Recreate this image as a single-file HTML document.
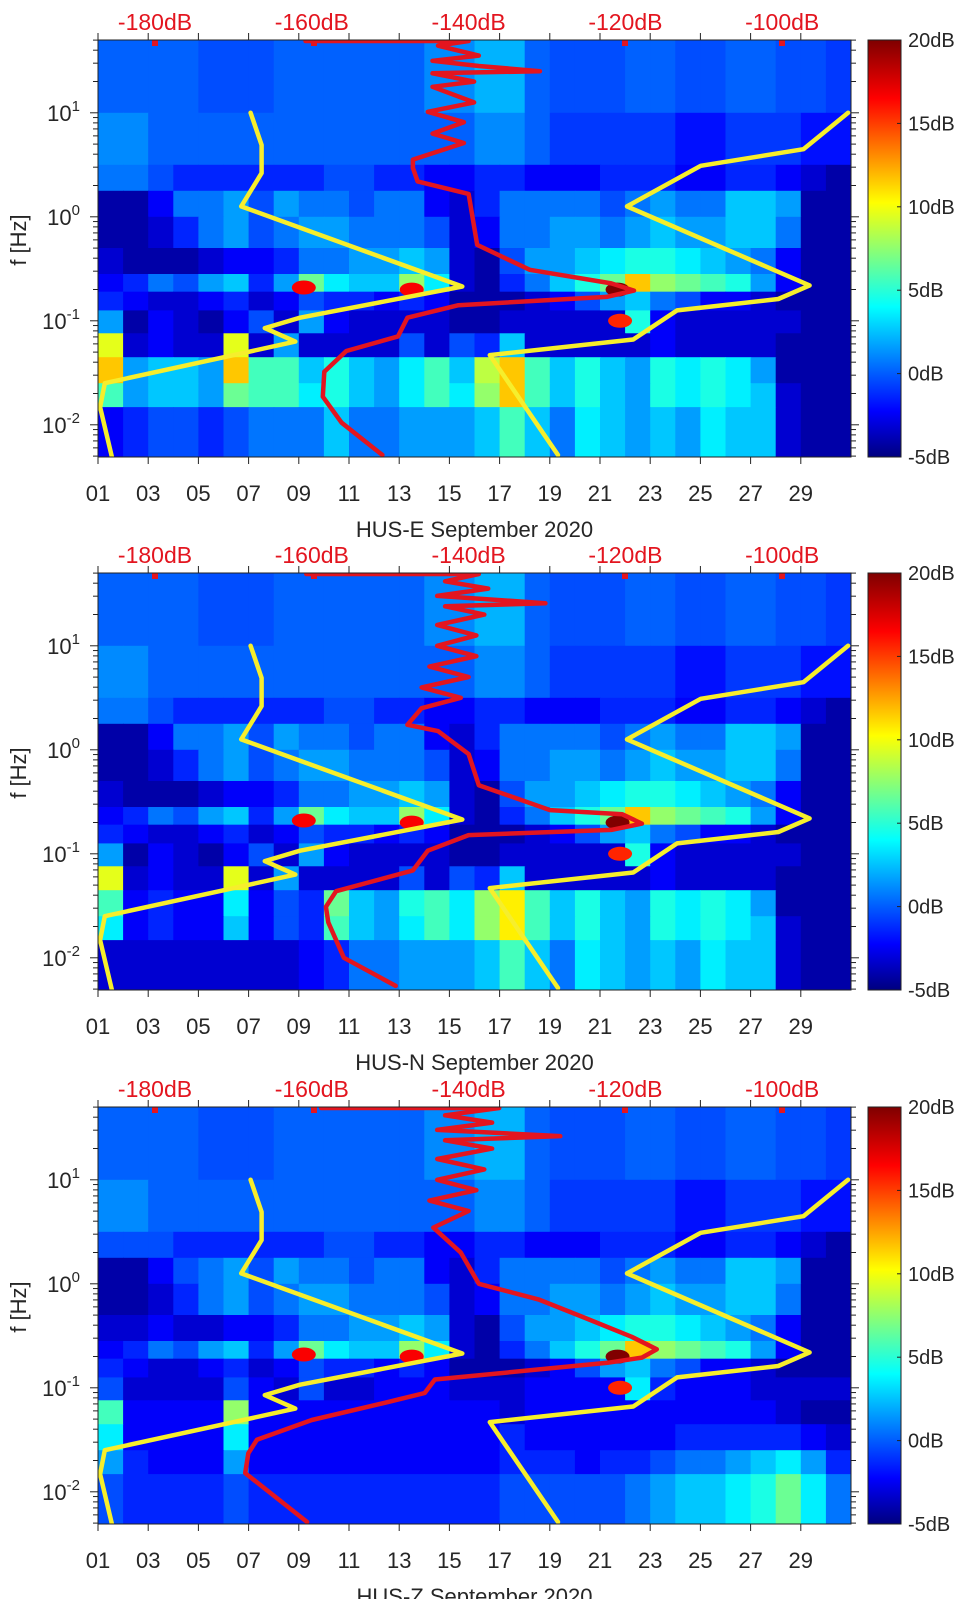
<!DOCTYPE html>
<html><head><meta charset="utf-8"><style>
html,body{margin:0;padding:0;background:#fff;}
svg{display:block;font-family:"Liberation Sans",sans-serif;}
</style></head><body>
<svg id="fig" width="962" height="1599" viewBox="0 0 962 1599" xmlns="http://www.w3.org/2000/svg">
<defs>
<linearGradient id="jet" x1="0" y1="1" x2="0" y2="0">
<stop offset="0" stop-color="#00007f"/><stop offset="0.11" stop-color="#0000ff"/><stop offset="0.36" stop-color="#00ffff"/><stop offset="0.61" stop-color="#ffff00"/><stop offset="0.86" stop-color="#ff0000"/><stop offset="1" stop-color="#7f0000"/>
</linearGradient>
</defs>
</svg>
<script>
// ---- data ----
const rowEdges = [1.7, 1.0, 0.5, 0.25, 0.0, -0.3, -0.55, -0.72, -0.9, -1.12, -1.35, -1.6, -1.83, -2.31];
const dayTicks = ["01","03","05","07","09","11","13","15","17","19","21","23","25","27","29"];
const dbTicks = [-180, -160, -140, -120, -100];
const cbTicks = [20, 15, 10, 5, 0, -5];
const panelNames = ["HUS-E September 2020", "HUS-N September 2020", "HUS-Z September 2020"];

const heatE = [
 [0.5,0.5,0.5,0.5,0,0,0,0.5,0.5,0.5,0.5,0.5,0.5,1.5,1.5,2.5,2.5,0.5,0,0,0,0.5,0.5,0,0,0.5,0.5,0,0,-0.5],
 [1.5,1.5,0.5,0.5,0.5,0.5,0.5,0.5,0.5,0.5,0.5,0.5,0.5,0.5,0.5,1.5,1.5,0.5,-0.5,-0.5,-0.5,-0.5,-0.5,-1.5,-1.5,-0.5,-0.5,-0.5,-1.5,-1.5],
 [1,1,0,-1,-1,-1,-1,-1,-1,0,0,-1,-1,-2,-2,-1,-1,-2,-2,-2,-1,-1,-1,-2,-2,-1,-1,-2,-3,-4],
 [-4,-4,-2,1,1,2,0,2,1,1,0,1,1,-2,-3,-1,1,1,1,1,0,1,2,1,1,3,3,2,-4,-4],
 [-4,-4,-3,-1,1,2,0,1,2,2,1,1,1,0,-3,-2,1,1,2,2,1,2,3,2,2,3,3,1,-4,-4],
 [-3,-4,-4,-4,-3,-2,-2,-1,1,1,2,2,3,2,-3,-4,0,2,2,3,4,5,5,4,3,2,1,-2,-4,-4],
 [-2,-1,1,0,2,3,-1,2,7,4,3,3,8,4,-3,-4,-1,1,3,5,7,12,8,7,6,5,2,-2,-4,-4],
 [-1,-2,-3,-3,-2,-1,-3,-2,0,-1,-1,-2,-1,-2,-4,-4,-4,-3,-2,0,2,3,1,0,-2,-2,-3,-4,-4,-4],
 [2,-4,-2,-3,-4,-2,0,-3,2,-2,-3,-3,-3,-3,-4,-4,-3,-3,-3,-3,-3,5,-2,-3,-3,-3,-3,-3,-4,-4],
 [10,-3,-2,-3,-3,10,-3,2,-3,-3,-3,-3,0,-3,0,-1,3,-3,-3,-3,-3,-3,-2,-3,-3,-3,-3,-4,-4,-4],
 [12,2,3,3,2,12,6,6,3,5,3,2,4,6,3,9,12,6,3,5,3,2,5,4,5,4,2,-4,-4,-4],
 [6,2,3,3,2,7,6,6,4,5,3,2,4,6,4,8,12,6,3,5,3,2,5,4,5,4,3,-3,-4,-4],
 [-2,-1,0,0,-1,0,1,1,1,3,1,1,2,2,2,3,6,3,1,4,3,2,3,2,4,3,3,-3,-4,-4]
];
const heatN = [
 [0.5,0.5,0.5,0.5,0,0,0,0.5,0.5,0.5,0.5,0.5,0.5,1.5,1.5,2.5,2.5,0.5,0,0,0,0.5,0.5,0,0,0.5,0.5,0,0,-0.5],
 [1.5,1.5,0.5,0.5,0.5,0.5,0.5,0.5,0.5,0.5,0.5,0.5,0.5,0.5,0.5,1.5,1.5,0.5,-0.5,-0.5,-0.5,-0.5,-0.5,-1.5,-1.5,-0.5,-0.5,-0.5,-1.5,-1.5],
 [1,1,0,-1,-1,-1,-1,-1,-1,0,0,-1,-1,-2,-2,-1,-1,-2,-2,-2,-1,-1,-1,-2,-2,-1,-1,-2,-3,-4],
 [-4,-4,-2,1,1,2,0,2,1,1,0,1,1,-2,-3,-1,1,1,1,1,0,1,2,1,1,3,3,2,-4,-4],
 [-4,-4,-3,-1,1,2,0,1,2,2,1,1,1,0,-3,-2,1,1,2,2,1,2,3,2,2,3,3,1,-4,-4],
 [-3,-4,-4,-4,-3,-2,-2,-1,1,1,2,2,3,2,-3,-4,0,2,2,3,4,5,5,4,3,2,1,-2,-4,-4],
 [-2,-1,1,0,2,3,-1,2,7,4,3,3,8,4,-3,-4,-1,1,3,5,7,12,8,7,6,5,2,-2,-4,-4],
 [-1,-2,-3,-3,-2,-1,-3,-2,0,-1,-1,-2,-1,-2,-4,-4,-4,-3,-2,0,2,3,1,0,-2,-2,-3,-4,-4,-4],
 [2,-4,-2,-3,-4,-2,0,-3,2,-2,-3,-3,-3,-3,-4,-4,-3,-3,-3,-3,-3,5,-2,-3,-3,-3,-3,-3,-4,-4],
 [10,-3,-2,-3,-3,10,-3,2,-3,-3,-3,-3,0,-3,0,-1,3,-3,-3,-3,-3,-3,-2,-3,-3,-3,-3,-4,-4,-4],
 [6,-2,-1,-2,-2,4,-2,0,-1,7,3,2,5,6,4,8,11,6,3,5,3,2,5,4,5,4,2,-4,-4,-4],
 [4,-2,-1,-2,-2,3,-2,0,-1,6,3,2,4,6,4,8,11,6,3,5,3,2,5,4,5,4,3,-3,-4,-4],
 [-3,-3,-3,-3,-3,-3,-3,-3,-2,-1,1,1,2,2,2,3,6,3,1,4,3,2,3,2,4,3,3,-3,-4,-4]
];
const heatZ = [
 [0.5,0.5,0.5,0.5,0,0,0,0.5,0.5,0.5,0.5,0.5,0.5,1.5,1.5,2.5,2.5,0.5,0,0,0,0.5,0.5,0,0,0.5,0.5,0,0,-0.5],
 [1.5,1.5,0.5,0.5,0.5,0.5,0.5,0.5,0.5,0.5,0.5,0.5,0.5,0.5,0.5,1.5,1.5,0.5,-0.5,-0.5,-0.5,-0.5,-0.5,-1.5,-1.5,-0.5,-0.5,-0.5,-1.5,-1.5],
 [0,0,0,-1,-1,-1,-1,-1,-1,0,0,-1,-1,-2,-2,-1,-1,-2,-2,-2,-1,-1,-1,-2,-2,-1,-1,-2,-3,-4],
 [-4,-4,-2,0,1,2,0,2,1,1,0,1,1,-2,-3,-1,1,1,1,1,0,1,2,1,1,3,3,2,-4,-4],
 [-4,-4,-3,-1,1,2,0,1,2,2,1,1,1,0,-3,-2,1,1,2,2,1,2,3,2,2,3,3,1,-4,-4],
 [-3,-3,-2,-3,-3,-2,-2,-1,1,1,2,2,3,2,-3,-4,0,2,2,3,4,5,5,4,3,2,1,-2,-4,-4],
 [-2,-1,1,0,2,3,-1,2,7,4,3,3,8,4,-3,-4,-1,1,3,5,7,12,8,7,6,5,2,-2,-4,-4],
 [-1,-2,-3,-3,-2,-1,-3,-2,0,-1,-1,-2,-1,-2,-4,-4,-4,-3,-2,0,2,3,1,0,-2,-2,-3,-4,-4,-4],
 [0,-3,-3,-3,-3,0,-2,-3,0,-3,-3,-2,-2,-2,-3,-3,-3,-2,-2,-2,-2,4,-1,-2,-2,-2,-3,-3,-3,-3],
 [6,-2,-2,-2,-2,8,-2,-2,-2,-2,-2,-2,-2,-2,-2,-2,-3,-2,-2,-2,-2,-2,-2,-2,-2,-2,-2,-3,-4,-4],
 [4,-2,-2,-2,-2,4,-2,-2,-2,-2,-2,-2,-2,-2,-2,-2,-1,-2,-2,-2,-2,-2,-2,-1,-1,-1,-1,-1,-2,-3],
 [2,-1,-2,-2,-2,2,-2,-2,-2,-2,-2,-2,-2,-2,-2,-2,-1,-1,-1,-2,-1,-1,0,1,1,2,3,4,2,-1],
 [0,-1,-1,-1,-1,0,-1,-1,-1,-1,-1,-1,-1,-1,-1,-1,0,0,0,0,0,1,2,3,3,4,5,7,4,1]
];
// hotspots: day, log10 f, dB
const hotDay = [9.2, 13.5, 21.7, 21.8];
const hotLogf = [-0.68, -0.70, -0.70, -1.0];
const hotVal = [17, 17, 20, 16];

// noise models (dB, log10 f)
const nlnmDb = [-167.8,-166.4,-166.4,-169.0,-140.8,-161.5,-166.0,-162.1,-186.4,-187.0,-185.5];
const nlnmF  = [1.0,0.69,0.42,0.10,-0.67,-0.97,-1.07,-1.20,-1.60,-1.83,-2.31];
const nhnmDb = [-91.6,-97.3,-110.4,-119.8,-96.5,-100.5,-113.4,-119.0,-137.3,-128.6];
const nhnmF  = [1.0,0.65,0.49,0.10,-0.66,-0.79,-0.90,-1.18,-1.33,-2.29];

// measured PSD (red) per panel
const psdEDb = [-160.8,-140,-143.9,-138.7,-144.6,-138.7,-130.9,-144.6,-139.3,-144.6,-139.3,-145.2,-140.6,-144.6,-140.6,-147.1,-147.1,-146.5,-140.0,-138.9,-132.2,-121.8,-118.9,-122.4,-141.3,-147.8,-149,-155.6,-158.4,-158.6,-156.2,-151.0];
const psdEF  = [1.69,1.69,1.645,1.55,1.50,1.45,1.40,1.38,1.30,1.25,1.10,1.01,0.91,0.80,0.71,0.55,0.47,0.34,0.22,-0.27,-0.51,-0.64,-0.71,-0.77,-0.85,-0.97,-1.15,-1.29,-1.49,-1.73,-1.98,-2.29];
const psdNDb = [-160.7,-138.7,-143,-137.5,-144,-130.2,-143,-138,-144,-139,-144,-139,-145,-140,-146,-141,-146,-147.8,-143.9,-140,-138.7,-129.6,-120.4,-117.9,-121.8,-140,-145.2,-147.1,-156.9,-158.2,-157.9,-155.9,-149.3];
const psdNF  = [1.69,1.69,1.62,1.55,1.48,1.41,1.38,1.30,1.20,1.10,1.0,0.9,0.8,0.7,0.6,0.5,0.4,0.24,0.18,-0.04,-0.34,-0.58,-0.62,-0.71,-0.77,-0.82,-0.97,-1.16,-1.36,-1.51,-1.66,-2.0,-2.27];
const psdZDb = [-158.8,-136.1,-143,-137,-144,-128.3,-143,-137,-144,-138,-144,-139,-145,-140,-144.5,-141,-138.7,-131.1,-125.4,-119.2,-116.0,-117.9,-122.3,-144.3,-145.6,-150.5,-160.0,-167.0,-168.1,-168.5,-160.6];
const psdZF  = [1.69,1.69,1.62,1.55,1.48,1.42,1.38,1.30,1.20,1.10,1.0,0.9,0.8,0.7,0.54,0.3,0.0,-0.15,-0.32,-0.51,-0.63,-0.71,-0.76,-0.92,-1.05,-1.14,-1.31,-1.50,-1.63,-1.82,-2.29];

// ---- drawing ----
const NS = "http://www.w3.org/2000/svg";
const svg = document.getElementById("fig");
const L = 98, R = 851, H = 417, TOPF = 1.70, DEC = 104;
const tops = [40, 573, 1107];
const heats = [heatE, heatN, heatZ];
const psdDbs = [psdEDb, psdNDb, psdZDb];
const psdFs = [psdEF, psdNF, psdZF];
const dayW = (R - L) / 30;
function xDay(d){ return L + (d - 1) * dayW; }
function xDb(db){ return 155 + (db + 180) * 7.84; }
function yF(top, lf){ return top + (TOPF - lf) * DEC; }
function jet(v){
  const t = Math.max(0, Math.min(1, (v + 5) / 25));
  const c = x => Math.round(255 * Math.max(0, Math.min(1, x)));
  return "rgb(" + c(1.5 - Math.abs(4*t - 3)) + "," + c(1.5 - Math.abs(4*t - 2)) + "," + c(1.5 - Math.abs(4*t - 1)) + ")";
}
function mk(tag, attrs, parent){
  const e = document.createElementNS(NS, tag);
  for (const k in attrs) e.setAttribute(k, attrs[k]);
  (parent || svg).appendChild(e);
  return e;
}
function txt(s, x, y, size, fill, anchor, parent){
  const t = mk("text", {x: x, y: y, "font-size": size, fill: fill, "text-anchor": anchor || "middle"}, parent);
  t.textContent = s;
  return t;
}

tops.forEach((top, p) => {
  const g = mk("g", {});
  
  
  const bot = top + H;
  const clip = mk("clipPath", {id: "clip" + p}, g);
  mk("rect", {x: L, y: top, width: R - L, height: H}, clip);

  const hg = mk("g", {"clip-path": "url(#clip" + p + ")"}, g);
  
  
  mk("rect", {x: L, y: top, width: R - L, height: H, fill: "#0a1cc8"}, hg);
  const heat = heats[p];
  for (let r = 0; r < heat.length; r++) {
    const y0 = yF(top, rowEdges[r]), y1 = yF(top, rowEdges[r + 1]);
    for (let c = 0; c < heat[r].length; c++) {
      const cell = mk("rect", {x: xDay(c + 1), y: y0, width: dayW + 0.6, height: y1 - y0 + 0.6, fill: jet(heat[r][c])}, hg);
      
      
    }
  }
  for (let i = 0; i < hotDay.length; i++) {
    const e = mk("ellipse", {cx: xDay(hotDay[i]), cy: yF(top, hotLogf[i]), rx: 12, ry: 7, fill: jet(hotVal[i])}, hg);
    
    
  }
  // curves
  function poly(dbs, fs, color, name){
    const pts = dbs.map((d, i) => xDb(d).toFixed(1) + "," + yF(top, fs[i]).toFixed(1)).join(" ");
    const pl = mk("polyline", {points: pts, fill: "none", stroke: color, "stroke-width": 4.5, "stroke-linejoin": "round", "stroke-linecap": "round"}, hg);
    
    
  }
  poly(nlnmDb, nlnmF, "#f6ee2c", "nlnm-curve");
  poly(nhnmDb, nhnmF, "#f6ee2c", "nhnm-curve");
  poly(psdDbs[p], psdFs[p], "#e3151f", "psd-curve");
  [155, 314, 625, 782].forEach(x => {
    const m = mk("rect", {x: x - 3, y: top, width: 6, height: 6, fill: "#e3151f"}, hg);
    
    
  });

  // frame
  const fr = mk("rect", {x: L, y: top, width: R - L, height: H, fill: "none", stroke: "#222", "stroke-width": 1}, g);
  
  

  // x ticks
  dayTicks.forEach((lab, i) => {
    const x = xDay(+lab);
    mk("line", {x1: x, y1: bot, x2: x, y2: bot + 7, stroke: "#222"}, g);
    mk("line", {x1: x, y1: top, x2: x, y2: top - 7, stroke: "#222"}, g);
    const t = txt(lab, x, bot + 44, 22, "#262626", "middle", g);
    
    
  });
  const xl = txt(panelNames[p], (L + R) / 2, bot + 80, 22, "#262626", "middle", g);
  
  

  // top dB labels
  dbTicks.forEach(db => {
    const t = txt(db + "dB", xDb(db), top - 10, 23, "#e3151f", "middle", g);
    
    
  });

  // y ticks (log)
  for (let dec = -3; dec <= 1; dec++) {
    for (let m = 1; m <= 9; m++) {
      const lf = dec + Math.log10(m);
      if (lf > TOPF || lf < TOPF - H / DEC) continue;
      const y = yF(top, lf), len = m === 1 ? 8 : 5;
      mk("line", {x1: L - len, y1: y, x2: L, y2: y, stroke: "#222"}, g);
      mk("line", {x1: R, y1: y, x2: R + len, y2: y, stroke: "#222"}, g);
    }
  }
  [1, 0, -1, -2].forEach(e => {
    const y = yF(top, e);
    const t = mk("text", {x: 80, y: y + 8, "font-size": 22, fill: "#262626", "text-anchor": "end"}, g);
    
    
    const a = document.createElementNS(NS, "tspan"); a.textContent = "10"; t.appendChild(a);
    const b = document.createElementNS(NS, "tspan"); b.textContent = String(e);
    b.setAttribute("dy", "-10"); b.setAttribute("font-size", "15"); t.appendChild(b);
  });
  const yl = txt("f [Hz]", 0, 0, 22, "#262626", "middle", g);
  yl.setAttribute("transform", "translate(26," + (top + 200) + ") rotate(-90)");
  
  

  // colorbar
  const cb = mk("rect", {x: 868, y: top, width: 33, height: H, fill: "url(#jet)", stroke: "#222", "stroke-width": 1}, g);
  
  
  cbTicks.forEach(v => {
    const y = top + (20 - v) / 25 * H;
    mk("line", {x1: 897, y1: y, x2: 901, y2: y, stroke: "#222"}, g);
    const t = txt(v + "dB", 908, y + 7, 20, "#262626", "start", g);
    
    
  });
});
</script>
</body></html>
